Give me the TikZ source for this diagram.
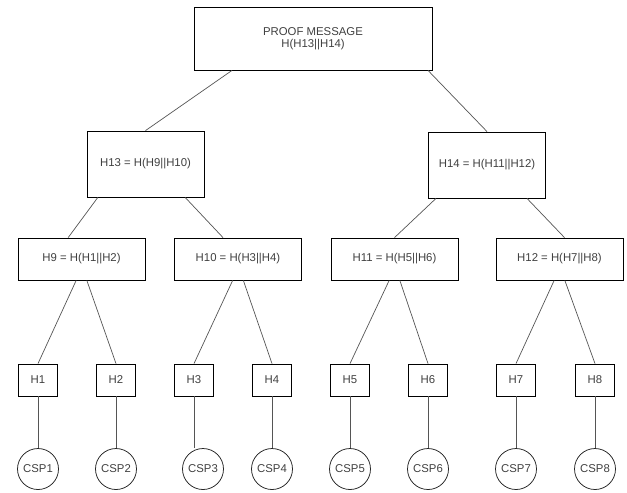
\documentclass[tikz,border=0pt]{standalone}
\usepackage{fontspec}
\setmainfont{Liberation Sans}
\usetikzlibrary{positioning}

\definecolor{txtgray}{HTML}{404040}
\definecolor{linegray}{HTML}{555555}

\begin{document}
\begin{tikzpicture}[x=0.03cm,y=-0.03cm,node distance=2.67cm,on grid,
	font=\fontsize{9.7}{10.5}\selectfont,text=txtgray,
	box/.style={draw=black,line width=0.7pt,fill=white,inner sep=0pt,align=center},
	rootbox/.style={box,minimum width=7.14cm,minimum height=1.89cm},
	upbox/.style={box,minimum width=3.51cm,minimum height=1.98cm},
	midbox/.style={box,minimum width=3.81cm,minimum height=1.26cm},
	leafbox/.style={box,minimum width=1.17cm,minimum height=0.96cm},
	csp/.style={draw=black!85,line width=0.65pt,circle,minimum size=1.23cm,inner sep=0pt},
	link/.style={draw=linegray,line width=0.6pt}]
		\useasboundingbox (0,0) rectangle (627,492);

		% root and upper level
		\node[rootbox] (root) at (313,38.5) {PROOF MESSAGE\\H(H13||H14)};
		\node[upbox] (h13) at (145.5,164) {H13 = H(H9||H10)};
		\node[upbox] (h14) at (487,165) {H14 = H(H11||H12)};

		% middle level
		\node[midbox] (h9) at (81.5,259) {H9 = H(H1||H2)};
		\node[midbox] (h10) at (238,259) {H10 = H(H3||H4)};
		\node[midbox] (h11) at (394.5,259) {H11 = H(H5||H6)};
		\node[midbox] (h12) at (559.5,259) {H12 = H(H7||H8)};

		% leaves
		\node[leafbox] (h1) at (38,380) {H1};
		\node[leafbox] (h2) at (116,380) {H2};
		\node[leafbox] (h3) at (194,380) {H3};
		\node[leafbox] (h4) at (272,380) {H4};
		\node[leafbox] (h5) at (350,380) {H5};
		\node[leafbox] (h6) at (428,380) {H6};
		\node[leafbox] (h7) at (516,380) {H7};
		\node[leafbox] (h8) at (595,380) {H8};

		\node[csp] (csp1) [below=of h1] {CSP1};
		\node[csp] (csp2) [below=of h2] {CSP2};
		\node[csp] (csp3) [below=of h3,xshift=0.27cm] {CSP3};
		\node[csp] (csp4) [below=of h4] {CSP4};
		\node[csp] (csp5) [below=of h5] {CSP5};
		\node[csp] (csp6) [below=of h6] {CSP6};
		\node[csp] (csp7) [below=of h7] {CSP7};
		\node[csp] (csp8) [below=of h8] {CSP8};

		\path[link] ([xshift=-2.43cm]root.south) -- (h13.north);
		\path[link] ([xshift=3.45cm]root.south) -- (h14.north);

		\path[link] ([xshift=-1.43cm]h13.south) -- ([xshift=-0.4cm]h9.north);
		\path[link] ([xshift=1.19cm]h13.south) -- ([xshift=-0.45cm]h10.north);
		\path[link] ([xshift=-1.53cm]h14.south) -- (h11.north);
		\path[link] ([xshift=1.2cm]h14.south) -- ([xshift=0.15cm]h12.north);

		\path[link] ([xshift=-0.16cm]h9.south) -- (h1.north);
		\path[link] ([xshift=0.16cm]h9.south) -- (h2.north);
		\path[link] ([xshift=-0.16cm]h10.south) -- (h3.north);
		\path[link] ([xshift=0.16cm]h10.south) -- (h4.north);
		\path[link] ([xshift=-0.16cm]h11.south) -- (h5.north);
		\path[link] ([xshift=0.16cm]h11.south) -- (h6.north);
		\path[link] ([xshift=-0.16cm]h12.south) -- (h7.north);
		\path[link] ([xshift=0.16cm]h12.south) -- (h8.north);

		\path[link] (h1.south) -- (csp1.north);
		\path[link] (h2.south) -- (csp2.north);
		\path[link] (h3.south) -- (h3.south |- csp3.north);
		\path[link] (h4.south) -- (csp4.north);
		\path[link] (h5.south) -- (csp5.north);
		\path[link] (h6.south) -- (csp6.north);
		\path[link] (h7.south) -- (csp7.north);
		\path[link] (h8.south) -- (csp8.north);
\end{tikzpicture}
\end{document}
